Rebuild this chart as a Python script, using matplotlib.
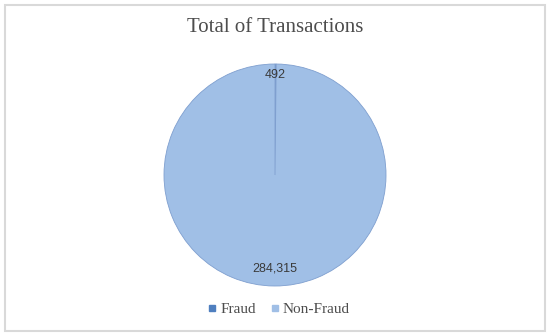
import matplotlib
matplotlib.use("Agg")
import matplotlib.pyplot as plt
from matplotlib.patches import Rectangle
from matplotlib.lines import Line2D

categories = ["Fraud", "Non-Fraud"]
values = [492, 284315]
labels = ["492", "284,315"]
colors = ["#4f7fbf", "#a0bfe6"]

W, H = 550, 336
fig = plt.figure(figsize=(W/100, H/100), dpi=100)
fig.patch.set_facecolor("white")

# outer border
fig.add_artist(Rectangle((5/W, 5/H), 540/W, 326/H, transform=fig.transFigure,
                         fill=False, edgecolor="#d9d9d9", linewidth=1.5))

cx, cy, r = 275, 175, 111
ax = fig.add_axes([(cx - r)/W, (H - cy - r)/H, 2*r/W, 2*r/H])
wedges, _ = ax.pie(values, colors=colors, startangle=90, counterclock=False,
                   wedgeprops=dict(edgecolor="#7f9fcf", linewidth=0.6))
ax.set_xlim(-1, 1); ax.set_ylim(-1, 1)
ax.set_aspect("equal")
ax.axis("off")

ax.text(0, 0.9, labels[0], ha="center", va="center", fontsize=9, color="#3a3a3a",
        family="Liberation Sans")
ax.text(0, -0.84, labels[1], ha="center", va="center", fontsize=9, color="#3a3a3a",
        family="Liberation Sans")

fig.text(0.5, 1 - 27/H, "Total of Transactions", ha="center", va="center",
         fontsize=15, color="#4d4d4d", family="Liberation Serif")

handles = [Line2D([], [], marker="s", linestyle="", markersize=4.5,
                  markerfacecolor=c, markeredgecolor=c) for c in colors]
fig.legend(handles, categories, loc="center", bbox_to_anchor=(279/W, 1 - 309/H),
           ncol=2, frameon=False, handlelength=0.5, handletextpad=0.25,
           columnspacing=1.0, borderpad=0, borderaxespad=0,
           prop=dict(family="Liberation Serif", size=11), labelcolor="#4d4d4d")

fig.savefig("out.png", dpi=100, facecolor="white")
